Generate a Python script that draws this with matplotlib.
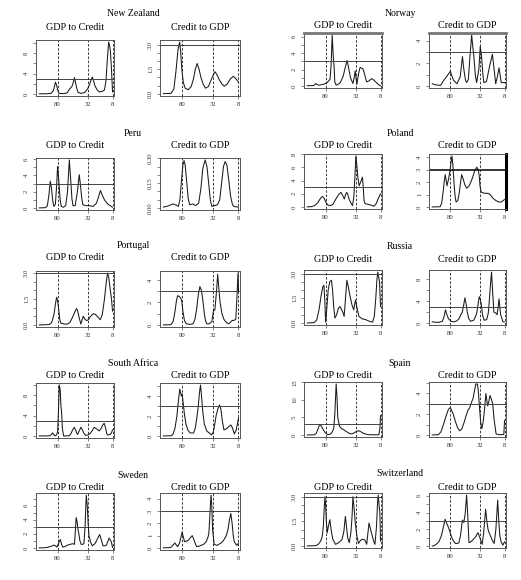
import numpy as np
import matplotlib
matplotlib.use("Agg")
import matplotlib.pyplot as plt
from matplotlib.ticker import MultipleLocator, FormatStrFormatter

countries = ["New Zealand", "Norway", "Peru", "Poland", "Portugal", "Russia",
             "South Africa", "Spain", "Sweden", "Switzerland"]
panel_titles = ["GDP to Credit", "Credit to GDP"]
period_ticks = [25, 66.5, 100]   # frequency index where periods 80, 32, 8 sit
period_labels = ["80", "32", "8"]
threshold = 3.0

# spectra as (frequency index, value) pairs
nz_gdp = [(0, 0.02), (10, 0.03), (16, 0.1), (19, 0.6), (21, 1.6), (22, 2.3), (23.5, 1.8), (25, 0.8),
          (27, 0.1), (33, 0.05), (38, 0.2), (41, 0.9), (43, 1.2), (45, 1.6), (47, 2.6), (48, 3.2),
          (49.5, 2.2), (51, 1.2), (53, 0.3), (57, 0.1), (62, 0.3), (66, 1.0), (69, 2.0), (71, 2.9),
          (72.5, 3.3), (74, 2.6), (76, 1.6), (79, 0.8), (82, 0.4), (86, 0.5), (89, 0.8), (91, 2.5),
          (93, 7.0), (94.7, 10.2), (96, 9.5), (97, 8.5), (98.5, 5.0), (100, 0.4)]
nz_credit = [(0, 0.02), (10, 0.03), (14, 0.3), (17, 1.5), (19.5, 2.7), (21.7, 3.15), (23, 2.6),
             (24.5, 1.5), (26.5, 0.7), (29, 0.35), (33, 0.25), (37, 0.45), (40, 0.9), (42.5, 1.5),
             (45, 1.85), (47.5, 1.5), (50, 1.0), (53, 0.6), (56, 0.35), (60, 0.45), (64, 0.9),
             (68.5, 1.35), (71, 1.2), (74, 0.9), (78, 0.6), (81, 0.47), (85, 0.6), (89, 0.9),
             (93, 1.07), (96, 0.95), (100, 0.72)]
norway_gdp = [(0, 0.03), (9, 0.05), (11.5, 0.3), (14, 0.15), (16, 0.1), (22, 0.2), (27, 0.4), (31, 0.8),
              (32.5, 2.5), (34, 6.2), (35.5, 3.5), (36.7, 2.3), (37.5, 0.5), (39.4, 0.1), (42, 0.2),
              (45, 0.4), (49, 1.2), (52, 2.3), (54.2, 3.1), (56, 2.4), (59, 1.0), (62.3, 0.3), (64, 1.0),
              (65.4, 1.85), (66.5, 1.0), (67.7, 0.2), (70, 1.5), (72, 2.25), (76, 2.1), (78, 1.5),
              (81, 0.5), (84, 0.6), (88, 0.9), (91, 0.7), (96.8, 0.2), (100, 0.02)]
norway_credit = [(0, 0.2), (4.5, 0.1), (11.4, 0.05), (16, 0.5), (21.8, 1.0), (25, 1.3), (27, 0.9),
                 (29.5, 0.5), (34.1, 0.2), (38.6, 0.8), (41.8, 2.6), (43.6, 1.5), (46, 0.5), (47.7, 0.3),
                 (50, 0.6), (52, 2.5), (54.5, 4.5), (56, 3.5), (57.7, 2.5), (59.5, 1.0), (61.4, 0.3),
                 (64.5, 1.5), (66.4, 3.5), (68.2, 2.6), (70, 1.0), (71.4, 0.3), (75, 0.4), (79.5, 1.8),
                 (83.2, 2.8), (86.4, 1.0), (87.7, 0.2), (90, 0.8), (92.3, 1.6), (94, 0.9), (95.5, 0.3),
                 (100, 0.3)]
peru_gdp = [(0, 0.02), (8.5, 0.05), (11, 0.3), (13, 1.5), (15, 3.3), (16.5, 2.5), (18.5, 0.8), (20, 0.2),
            (22, 0.5), (23.5, 2.5), (25, 5.1), (26.5, 3.5), (28.5, 1.0), (30, 0.2), (33, 0.1), (36, 0.3),
            (38.5, 2.0), (41, 5.9), (42.5, 4.0), (44.5, 1.2), (46, 0.3), (49, 0.3), (52, 2.0), (54.5, 4.1),
            (56, 3.0), (58, 1.2), (59.5, 0.4), (64, 0.3), (68.5, 0.3), (73.5, 0.2), (78, 0.6), (81, 1.4),
            (83.5, 2.15), (86, 1.6), (89, 1.0), (93.5, 0.5), (100, 0.1)]
peru_credit = [(0, 0.006), (6, 0.012), (13, 0.025), (17, 0.018), (20, 0.01), (22, 0.05), (24, 0.16),
               (26, 0.26), (27.5, 0.286), (29, 0.26), (31, 0.16), (33, 0.06), (35, 0.02), (39, 0.025),
               (43, 0.015), (47, 0.03), (50, 0.12), (52.5, 0.24), (55.6, 0.29), (58, 0.25), (60.5, 0.14),
               (62.5, 0.05), (64.4, 0.01), (68, 0.015), (72, 0.02), (75, 0.05), (77.5, 0.15), (80, 0.25),
               (82.2, 0.28), (84.5, 0.26), (87, 0.17), (89.5, 0.07), (92, 0.02), (94, 0.01), (100, 0.005)]
poland_gdp = [(0, 0.02), (5.7, 0.05), (10, 0.2), (14, 0.6), (18, 1.3), (20.5, 1.6), (23, 1.3), (26, 0.6),
              (28, 0.3), (31.3, 0.2), (35, 0.4), (39, 1.2), (43, 1.9), (46, 2.2), (48.5, 1.7), (50.6, 1.2),
              (52, 1.8), (53.7, 2.2), (55, 2.0), (57, 1.2), (59.5, 0.6), (61.8, 0.2), (63.5, 1.5),
              (65, 4.5), (66.3, 7.7), (67.5, 6.5), (69, 4.5), (70.8, 3.2), (73, 3.8), (75.3, 4.5),
              (76.5, 2.8), (77.5, 1.0), (78.9, 0.5), (83, 0.4), (86.5, 0.3), (91, 0.1), (94, 0.5),
              (97, 1.3), (100, 2.0)]
poland_credit = [(0, 0.0), (11, 0.02), (13, 0.3), (15, 1.2), (16.5, 2.0), (18, 2.6), (20.4, 1.7),
                 (22.7, 2.3), (24.5, 2.9), (26, 3.6), (27.3, 4.1), (28.5, 3.4), (30, 2.0), (31.5, 0.9),
                 (32.9, 0.4), (35.2, 0.5), (37, 1.0), (39, 1.9), (40.7, 2.6), (42.5, 2.3), (45, 1.8),
                 (47.7, 1.5), (51, 1.7), (54, 2.1), (56, 2.4), (58.5, 2.9), (61.6, 3.2), (63.5, 3.0),
                 (65, 2.5), (66, 1.7), (67.6, 1.2), (72, 1.1), (76.9, 1.1), (80, 1.0), (84, 0.7),
                 (88.4, 0.5), (92, 0.4), (95.4, 0.4), (100, 0.6)]
portugal_gdp = [(0, 0.0), (13.6, 0.02), (17, 0.15), (20, 0.6), (22, 1.2), (23.6, 1.6), (25, 1.4),
                (26.5, 0.9), (28, 0.3), (29.5, 0.1), (34, 0.05), (38.6, 0.05), (42, 0.15), (46, 0.5),
                (49, 0.8), (50.9, 0.95), (52.5, 0.8), (54.5, 0.4), (56.8, 0.05), (58.5, 0.3), (60, 0.5),
                (62, 0.35), (64.5, 0.25), (67, 0.3), (70, 0.5), (74, 0.65), (77, 0.6), (80, 0.45),
                (83.2, 0.3), (86, 0.6), (89, 1.5), (91.5, 2.5), (93.2, 3.0), (95, 2.7), (97, 2.0),
                (98.6, 1.5), (100, 0.8)]
portugal_credit = [(0, 0.0), (10, 0.02), (13, 0.3), (15.5, 1.2), (17.5, 2.2), (19, 2.6), (21.5, 2.5),
                   (23, 2.4), (24.5, 2.1), (26, 1.2), (28, 0.4), (30.5, 0.1), (35, 0.05), (39.5, 0.1),
                   (42, 0.5), (44.5, 1.5), (46.5, 2.7), (48.6, 3.4), (50.5, 3.1), (52.5, 2.2), (54.5, 1.0),
                   (56, 0.4), (57.7, 0.1), (61, 0.1), (64.5, 0.3), (66.8, 1.3), (68.5, 1.3), (70.5, 2.8),
                   (72.3, 4.5), (73.5, 3.5), (75.5, 2.0), (78, 1.0), (80.5, 0.5), (84, 0.2), (87.3, 0.1),
                   (90, 0.3), (91.8, 0.4), (94, 0.4), (96.4, 0.5), (98, 2.5), (99.3, 4.6), (100, 3.0)]
russia_gdp = [(0, 0.0), (9.5, 0.02), (13, 0.2), (16, 0.8), (19, 1.7), (21.2, 2.2), (22.7, 2.3), (24, 1.3),
              (25, 0.05), (26.5, 0.8), (28.5, 2.0), (30.6, 2.5), (33, 2.6), (34.5, 2.0), (36, 1.0),
              (37.7, 0.3), (40, 0.5), (42.5, 0.9), (44.7, 1.0), (47, 0.8), (49, 0.6), (50.3, 0.4),
              (52, 1.4), (54, 2.6), (56, 2.2), (58.5, 1.6), (61, 1.1), (63.4, 0.8), (64.5, 1.1),
              (65.8, 1.4), (67.5, 1.0), (70.5, 0.4), (75, 0.25), (79.8, 0.2), (85, 0.1), (89.2, 0.05),
              (91.5, 0.4), (93.5, 1.5), (95, 2.6), (96.25, 3.1), (97.5, 2.8), (98.6, 2.5), (100, 1.0)]
russia_credit = [(0, 0.2), (8.2, 0.1), (14, 0.3), (16, 1.0), (18.3, 2.4), (20, 1.6), (22.3, 0.8),
                 (25.9, 0.3), (30.4, 0.2), (34, 0.4), (37.1, 0.8), (39.5, 1.5), (41.6, 2.0), (43.5, 3.3),
                 (45.2, 4.6), (46.8, 3.5), (48.4, 2.0), (50.5, 0.8), (52.8, 0.3), (57.3, 0.5), (60, 1.2),
                 (61.8, 2.0), (63.5, 3.5), (65, 4.8), (66.5, 4.3), (67.7, 3.5), (69.5, 1.5), (71.7, 0.5),
                 (75.3, 0.6), (77.5, 1.8), (78.9, 4.0), (80.5, 7.0), (82, 9.3), (83.4, 6.0), (85.2, 2.0),
                 (87.9, 1.8), (89.7, 1.5), (91, 2.8), (92.4, 4.4), (93.5, 2.8), (94.6, 1.5), (97.8, 0.2),
                 (100, 0.2)]
safrica_gdp = [(0, 0.0), (13.6, 0.02), (16, 0.2), (18.2, 0.6), (19.8, 0.3), (21.4, 0.0), (23.5, 0.2),
               (25, 0.8), (26.2, 5.0), (27.3, 10.0), (28.6, 9.0), (29.5, 6.0), (30.5, 4.5), (31.5, 1.5),
               (33.2, 0.0), (37, 0.02), (40.9, 0.05), (43, 0.4), (45.5, 1.2), (47.7, 1.7), (49.5, 1.2),
               (51, 0.6), (52.3, 0.3), (54.5, 1.0), (56.8, 1.7), (58.5, 1.3), (61, 0.5), (63.6, 0.1),
               (66.5, 0.2), (69.5, 0.5), (72, 1.0), (75, 1.7), (78, 1.4), (81.8, 1.0), (84.5, 1.5),
               (86.5, 2.1), (88.6, 2.5), (90.5, 1.6), (92, 0.5), (93.2, 0.2), (96.8, 0.3), (98.5, 0.6),
               (100, 1.2)]
safrica_credit = [(0, 0.0), (10.3, 0.02), (13, 0.2), (15.5, 0.8), (18, 2.0), (20, 3.5), (21.8, 4.7),
                  (23, 4.3), (24, 4.0), (25, 4.2), (26.5, 3.2), (28, 2.2), (30, 1.2), (32.5, 0.6),
                  (35.6, 0.3), (40.2, 0.3), (42.5, 0.8), (44.5, 1.8), (46.5, 3.0), (48, 4.3), (49.4, 5.1),
                  (50.8, 4.0), (52.5, 2.4), (54.5, 1.2), (57.7, 0.5), (61, 0.3), (64.1, 0.1), (66.5, 0.4),
                  (68.5, 1.2), (70.1, 2.0), (72.5, 2.7), (74.7, 3.1), (76.5, 2.7), (78.5, 1.5), (80.6, 0.6),
                  (83.5, 0.7), (86.5, 0.9), (89.9, 1.1), (92, 0.8), (94.5, 0.2), (97, 0.6), (100, 1.8)]
spain_gdp = [(0, 0.0), (9.3, 0.05), (12, 0.4), (14.5, 1.6), (16.9, 3.0), (19, 2.6), (21.5, 1.6),
             (24.5, 0.6), (27.2, 0.2), (29.5, 0.1), (32, 0.3), (34.5, 1.0), (36.2, 2.0), (37.6, 6.0),
             (39.4, 14.5), (40.5, 11.0), (41.6, 5.0), (43.9, 2.5), (46.5, 1.9), (49.7, 1.5), (53, 1.0),
             (57, 0.5), (60.9, 0.3), (64, 0.6), (67, 1.0), (69.9, 1.2), (72.5, 1.0), (75.5, 0.6),
             (78.9, 0.3), (83, 0.1), (87.8, 0.05), (93, 0.05), (97.7, 0.05), (99.2, 2.0), (100, 5.5)]
spain_credit = [(0, 0.0), (8.6, 0.03), (12, 0.3), (15.5, 1.0), (19, 1.8), (22, 2.4), (24, 2.6), (26, 2.5),
                (29, 2.0), (32, 1.3), (35, 0.7), (38, 0.4), (41, 0.6), (44, 1.2), (47, 1.9), (49.5, 2.4),
                (51.7, 2.6), (54, 3.1), (56.4, 3.5), (58.5, 4.3), (60.2, 4.9), (62.5, 4.9), (64, 4.0),
                (65.5, 2.5), (67, 1.2), (68.6, 0.6), (70.5, 1.3), (72.5, 2.6), (74.2, 4.0), (75.5, 3.3),
                (76.6, 2.8), (78.2, 3.2), (79.8, 3.8), (81.5, 3.5), (83.6, 3.0), (85.5, 1.5), (88.3, 0.1),
                (92, 0.02), (99, 0.05), (100, 1.4)]
sweden_gdp = [(0, 0.0), (8.9, 0.03), (14, 0.15), (18, 0.3), (20.4, 0.4), (22.5, 0.25), (24, 0.1),
              (26.5, 0.7), (28.7, 1.2), (30.5, 0.5), (31.9, 0.1), (35, 0.2), (38.8, 0.4), (42, 0.5),
              (45.7, 0.6), (48, 0.5), (49.3, 2.5), (50.3, 4.3), (51.5, 3.8), (53, 2.5), (54, 2.0),
              (55.5, 1.0), (57.2, 0.5), (59, 0.5), (60.9, 0.6), (62.5, 3.0), (64.1, 7.5), (65.5, 6.0),
              (66.7, 3.5), (67.8, 1.8), (70, 0.8), (72.4, 0.3), (76, 0.6), (79, 1.2), (82.5, 1.9),
              (84.5, 1.2), (87.1, 0.3), (89.5, 0.3), (91.7, 0.4), (93.5, 0.9), (95.4, 1.4), (97, 1.1),
              (98.6, 0.8), (100, 0.05)]
sweden_credit = [(0, 0.0), (9.7, 0.03), (12.5, 0.2), (15.3, 0.4), (17, 0.25), (19, 0.1), (21.5, 0.4),
                 (23.5, 0.9), (25, 1.3), (26.5, 0.9), (28.2, 0.5), (30.5, 0.55), (32.9, 0.6), (35.5, 0.8),
                 (38.4, 1.0), (40.5, 0.7), (42.1, 0.4), (44.4, 0.1), (48, 0.15), (53.7, 0.3), (57, 0.5),
                 (59.5, 0.9), (60.6, 1.2), (62, 2.8), (63.4, 4.3), (64.4, 3.5), (65.5, 1.5), (67.6, 0.3),
                 (71.3, 0.2), (74, 0.3), (76.9, 0.4), (80, 0.6), (83.8, 1.0), (86, 1.5), (88, 2.3),
                 (89.8, 2.8), (91.5, 2.0), (93, 1.0), (94.4, 0.5), (97.7, 0.2), (100, 0.4)]
swiss_gdp = [(0, 0.0), (11.5, 0.02), (15, 0.1), (18.3, 0.3), (20.5, 0.6), (21.9, 1.2), (23, 2.2),
             (24.1, 3.0), (25, 2.5), (26, 1.5), (27.2, 0.8), (28.8, 1.2), (30.8, 1.6), (32.5, 1.0),
             (34.9, 0.4), (38.5, 0.1), (43, 0.2), (47.5, 0.4), (50, 0.9), (52, 1.8), (53.5, 1.2),
             (55.1, 0.5), (57.3, 0.2), (59.5, 0.8), (61, 1.7), (62.3, 3.0), (63.7, 2.4), (65.5, 1.4),
             (67.7, 0.6), (69.9, 0.15), (72, 0.3), (74.4, 0.4), (76.5, 0.4), (78.9, 0.35), (81.1, 0.1),
             (82.8, 0.8), (84.3, 1.4), (86.5, 1.0), (88.8, 0.6), (90.5, 0.3), (92.4, 0.1), (94.5, 1.2),
             (96, 2.7), (96.9, 3.1), (98, 2.5), (99.1, 2.0), (100, 0.3)]
swiss_credit = [(0, 0.0), (2.1, 0.02), (5.5, 0.2), (9.2, 0.5), (12.5, 1.2), (15.5, 2.3), (17.8, 3.2),
                (19.5, 2.8), (21.2, 2.5), (24, 1.8), (27, 1.0), (30, 0.5), (32.2, 0.3), (35, 0.3),
                (36.9, 0.4), (39, 1.2), (41.7, 3.1), (43.6, 2.8), (45.5, 3.8), (47.5, 6.1), (48.9, 4.0),
                (50.8, 0.4), (53.5, 0.5), (57, 0.8), (60, 1.1), (63.2, 1.6), (65, 1.2), (66.6, 0.8),
                (69, 0.2), (71, 1.5), (73.8, 4.4), (75.5, 3.0), (77.1, 2.0), (79, 1.5), (81, 1.1),
                (83.5, 0.6), (85.7, 0.3), (88, 2.0), (90.5, 5.5), (92, 3.0), (93.5, 1.2), (95.3, 0.5),
                (97.7, 0.1), (100, 0.5)]

series = {
    "New Zealand": (nz_gdp, nz_credit),
    "Norway": (norway_gdp, norway_credit),
    "Peru": (peru_gdp, peru_credit),
    "Poland": (poland_gdp, poland_credit),
    "Portugal": (portugal_gdp, portugal_credit),
    "Russia": (russia_gdp, russia_credit),
    "South Africa": (safrica_gdp, safrica_credit),
    "Spain": (spain_gdp, spain_credit),
    "Sweden": (sweden_gdp, sweden_credit),
    "Switzerland": (swiss_gdp, swiss_credit),
}

# y axis: (labelled step, tick step) for each panel
ysteps = {
    "New Zealand": ((4, 2), (1.5, 0.5)),
    "Norway": ((2, 1), (2, 1)),
    "Peru": ((2, 1), (0.15, 0.05)),
    "Poland": ((2, 2), (1, 1)),
    "Portugal": ((1.5, 0.5), (2, 1)),
    "Russia": ((1.5, 0.5), (4, 2)),
    "South Africa": ((4, 2), (2, 1)),
    "Spain": ((5, 5), (2, 1)),
    "Sweden": ((2, 1), (1, 1)),
    "Switzerland": ((1.5, 0.5), (2, 1)),
}

# --- layout, in pixels of the 521x580 picture ---
W, H = 521, 580
col_x = [((36, 114), (160, 240)), ((304, 382), (429, 506))]
# per row: box top, box bottom, country title y, panel title y   (left col, right col)
rows = [
    [(40, 96, 14, 27), (33, 88, 14, 26)],
    [(158, 210, 133, 146), (154, 209, 134, 146)],
    [(271, 327, 245, 258), (270, 325, 246, 259)],
    [(383, 438, 363, 376), (382, 437, 363, 376)],
    [(493, 550, 475, 488), (493, 548, 474, 487)],
]

serif = "Liberation Serif"
ink = "#1a1a1a"
frame = "#555555"

fig = plt.figure(figsize=(W / 100, H / 100), dpi=100)
fig.patch.set_facecolor("white")

for i, name in enumerate(countries):
    col, row = i % 2, i // 2
    top, bot, ty, sy = rows[row][col]
    pair = col_x[col]
    cx = (pair[0][0] + pair[1][1]) / 2 - 5
    fig.text(cx / W, 1 - ty / H, name, ha="center", va="center",
             fontsize=7, family=serif)

    for j, pts in enumerate(series[name]):
        x0, x1 = pair[j]
        ax = fig.add_axes([x0 / W, 1 - bot / H, (x1 - x0) / W, (bot - top) / H])
        fig.text((x0 + x1) / 2 / W, 1 - sy / H, panel_titles[j], ha="center", va="center",
                 fontsize=7.3, family=serif)

        xs, ys = np.array(pts).T
        ax.plot(xs, ys, color=ink, lw=0.75)

        hl_color, hl_w = ("black", 1.1) if name == "Poland" and j == 1 else ("#444444", 0.7)
        ax.axhline(threshold, color=hl_color, lw=hl_w)
        for t in period_ticks:
            ax.axvline(t, color=ink, lw=0.6, ls=(0, (3, 2)))

        ymax = ys.max()
        ax.set_xlim(-4.5, 102)
        ax.set_ylim(-0.04 * ymax, 1.04 * ymax)

        ax.set_xticks(period_ticks, period_labels)
        major, minor = ysteps[name][j]
        ax.yaxis.set_major_locator(MultipleLocator(major))
        ax.yaxis.set_minor_locator(MultipleLocator(minor))
        if major < 1:
            ax.yaxis.set_major_formatter(FormatStrFormatter("%.2f"))
        elif major % 1:
            ax.yaxis.set_major_formatter(FormatStrFormatter("%.1f"))
        else:
            ax.yaxis.set_major_formatter(FormatStrFormatter("%d"))

        ax.tick_params(which="both", direction="out", length=2, width=0.5,
                       color=frame, labelsize=4.8, labelcolor="#333333", pad=2.5)
        ax.tick_params(axis="y", labelrotation=90, pad=3)
        for lab in ax.get_xticklabels() + ax.get_yticklabels():
            lab.set_family(serif)
        for lab in ax.get_yticklabels():
            lab.set_va("center")

        for side in ax.spines.values():
            side.set_color(frame)
            side.set_linewidth(0.7)
        if name == "Norway":
            ax.spines["top"].set_linewidth(2)
            ax.spines["top"].set_color("#777777")
        if name == "Poland" and j == 1:
            ax.spines["right"].set_linewidth(2.2)
            ax.spines["right"].set_color("black")

fig.savefig("out.png", dpi=100)
